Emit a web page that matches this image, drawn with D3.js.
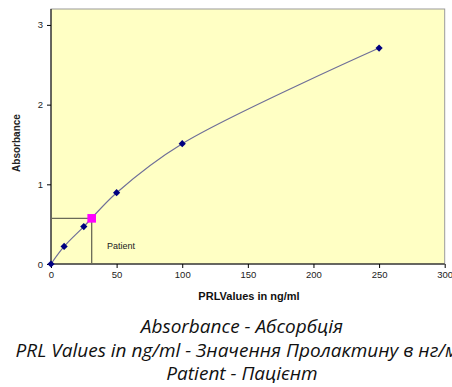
<!DOCTYPE html>
<html>
<head>
<meta charset="UTF-8">
<script src="https://cdn.jsdelivr.net/npm/d3@7"></script>
<style>
body{margin:0;background:#fff;overflow:hidden}
.axis text{font-family:Arial,"Liberation Sans",sans-serif;font-size:9.5px;fill:#222}
.axis path,.axis line{stroke:#000}
.note{font-family:"Open Sans",sans-serif;font-style:italic;fill:#111}
</style>
</head>
<body>
<div id="root"></div>
<script>
// standard curve points
let concs = [0, 10, 25, 50, 100, 250]
let absorb = [0, 0.22, 0.47, 0.895, 1.51, 2.71]
let patient = [31, 0.573]
let xTicks = [0, 50, 100, 150, 200, 250, 300]
let yTicks = [0, 1, 2, 3]
let notes = ["Absorbance - Абсорбція", "PRL Values in ng/ml - Значення Пролактину в нг/мл", "Patient - Пацієнт"]

let width = 452, height = 387
let pLeft = 51, pRight = 444.7, pTop = 9, pBottom = 264

let svg = d3.select("#root").append("svg").attr("width", width).attr("height", height)

let x = d3.scaleLinear().domain([0, 300]).range([pLeft, pRight])
let y = d3.scaleLinear().domain([0, 3.2]).range([pBottom, pTop])

svg.append("rect").attr("x", pLeft).attr("y", pTop)
    .attr("width", pRight - pLeft).attr("height", pBottom - pTop)
    .attr("fill", "#ffffc4").attr("stroke", "#9a9a9a").attr("stroke-width", 1)

let gx = svg.append("g").attr("class", "axis").attr("transform", "translate(0," + pBottom + ")")
    .call(d3.axisBottom(x).tickValues(xTicks).tickSize(4).tickPadding(3))
let gy = svg.append("g").attr("class", "axis").attr("transform", "translate(" + pLeft + ",0)")
    .call(d3.axisLeft(y).tickValues(yTicks).tickFormat(d3.format("d")).tickSize(4).tickPadding(4))
gx.select(".domain").attr("d", "M" + pLeft + ",0H" + pRight)
gy.select(".domain").attr("d", "M0," + pTop + "V" + pBottom)

// patient guide lines
svg.append("path")
    .attr("d", "M" + x(0) + "," + y(patient[1]) + "H" + x(patient[0]) + "V" + y(0))
    .attr("fill", "none").attr("stroke", "#6a6a58").attr("stroke-width", 1.3)

let pts = concs.map((c, i) => [c, absorb[i]])
svg.append("path").datum(pts)
    .attr("d", d3.line().x(d => x(d[0])).y(d => y(d[1])).curve(d3.curveCatmullRom.alpha(0.5)))
    .attr("fill", "none").attr("stroke", "#6f6f98").attr("stroke-width", 1.2)

svg.selectAll(".pt").data(pts).enter().append("path").attr("class", "pt")
    .attr("transform", d => "translate(" + x(d[0]) + "," + y(d[1]) + ")")
    .attr("d", "M0,-3.6L3.6,0L0,3.6L-3.6,0Z")
    .attr("fill", "#000080")

svg.append("rect").attr("x", x(patient[0]) - 4.3).attr("y", y(patient[1]) - 4.3)
    .attr("width", 8.6).attr("height", 8.6).attr("fill", "#ff00ff")

svg.append("text").attr("x", 107).attr("y", 249)
    .style("font-family", "Arial,sans-serif").style("font-size", "9px").attr("fill", "#222")
    .text("Patient")

svg.append("text").attr("transform", "translate(20,143) rotate(-90)")
    .attr("text-anchor", "middle").style("font-family", "Arial,sans-serif")
    .style("font-size", "10px").style("font-weight", "bold").attr("fill", "#222")
    .text("Absorbance")

svg.append("text").attr("x", 249).attr("y", 300).attr("text-anchor", "middle")
    .style("font-family", "Arial,sans-serif").style("font-size", "11px").style("font-weight", "bold").attr("fill", "#111")
    .text("PRLValues in ng/ml")

let noteY = [333, 357, 380]
svg.selectAll(".note").data(notes).enter().append("text").attr("class", "note")
    .attr("x", 242).attr("y", (d, i) => noteY[i]).attr("text-anchor", "middle")
    .style("font-size", "19px").text(d => d)
</script>
</body>
</html>
